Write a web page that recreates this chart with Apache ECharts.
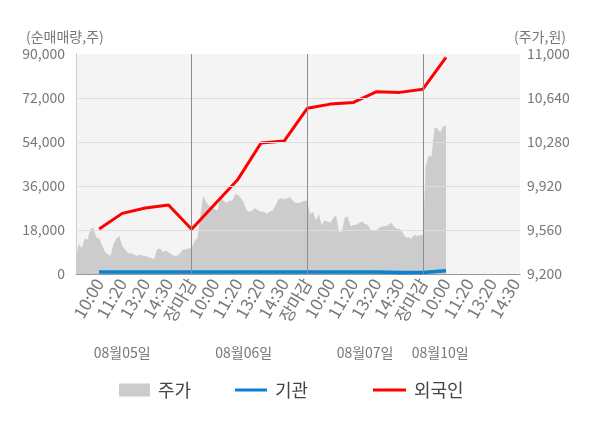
<!DOCTYPE html>
<html>
<head>
<meta charset="utf-8">
<title>순매매량 / 주가</title>
<script src="https://cdn.jsdelivr.net/npm/echarts@6/dist/echarts.min.js"></script>
<style>
html, body { margin: 0; padding: 0; background: #fff; }
#main { width: 600px; height: 428px; }
</style>
</head>
<body>
<div id="main"></div>
<script>
// x축 칸 이름 (하루 = 5칸, 0번 칸은 비워둠)
var slotLabels = ['', '10:00', '11:20', '13:20', '14:30', '장마감',
	'10:00', '11:20', '13:20', '14:30', '장마감',
	'10:00', '11:20', '13:20', '14:30', '장마감',
	'10:00', '11:20', '13:20', '14:30'];
var dayLabels = ['08월05일', '08월06일', '08월07일', '08월10일'];

// 주가 (원) : 칸 1/8 간격
var prices = [
	9340, 9450, 9410, 9490, 9480, 9570, 9580, 9500, 9490, 9440,
	9380, 9360, 9350, 9450, 9490, 9510, 9430, 9400, 9370, 9370,
	9360, 9350, 9360, 9350, 9350, 9340, 9330, 9320, 9400, 9410,
	9380, 9390, 9380, 9360, 9350, 9350, 9370, 9400, 9400, 9410,
	9410,
	9470, 9490, 9670, 9840, 9790, 9760, 9740, 9730, 9720, 9840,
	9800, 9780, 9800, 9800, 9850, 9850, 9820, 9790, 9720, 9710,
	9720, 9740, 9720, 9710, 9710, 9690, 9710, 9720, 9760, 9810,
	9820, 9810, 9820, 9830, 9800, 9780, 9780, 9790, 9800, 9800,
	9690, 9710, 9640, 9690, 9600, 9640, 9630, 9620, 9660, 9680,
	9540, 9550, 9660, 9670, 9590, 9600, 9600, 9620, 9630, 9610,
	9600, 9560, 9560, 9560, 9580, 9590, 9590, 9600, 9620, 9590,
	9570, 9570, 9540, 9500, 9500, 9490, 9520, 9510, 9520, 9520,
	10090, 10170, 10160, 10400, 10390, 10360, 10410, 10410
];
var priceStep = 0.125;

// 순매매량 (주) : 1번 칸부터
var foreign = [18400, 24800, 27000, 28200, 18300, 28500, 38700, 53600,
	54400, 67800, 69500, 70200, 74600, 74300, 75600, 88600];
var institution = [800, 800, 800, 800, 800, 800, 800, 800,
	800, 800, 800, 800, 800, 600, 600, 1300];

// 날짜 글자 위치 (칸 단위)
var daySlots = [2, 7.25, 12.5, 15.75];

var xMax = 19.2;
var leftAxis = { min: 0, max: 90000, interval: 18000 };
var rightAxis = { min: 9200, max: 11000, interval: 360 };

var priceData = prices.map(function (v, i) { return [i * priceStep, v]; });
var foreignData = foreign.map(function (v, i) { return [i + 1, v]; });
var instData = institution.map(function (v, i) { return [i + 1, v]; });

// 그리드 선은 주가 영역 위에 그려야 해서 markLine 으로
var gridLines = [];
for (var t = rightAxis.min + rightAxis.interval; t < rightAxis.max; t += rightAxis.interval) {
	gridLines.push({ yAxis: t, lineStyle: { color: '#dddddd', width: 1, type: 'solid' } });
}
[5, 10, 15].forEach(function (s) {
	gridLines.push({ xAxis: s, lineStyle: { color: '#8c8c8c', width: 1, type: 'solid' } });
});

function comma(v) {
	return String(v).replace(/\B(?=(\d{3})+(?!\d))/g, ',');
}

var myChart = echarts.init(document.getElementById('main'));

var option = {
	animation: false,
	textStyle: { fontFamily: 'Noto Sans CJK KR' },
	title: [
		{ text: '(순매매량,주)', left: 21, top: 25,
			textStyle: { fontSize: 14, fontWeight: 'normal', color: '#777' } },
		{ text: '(주가,원)', left: 509, top: 25,
			textStyle: { fontSize: 14, fontWeight: 'normal', color: '#777' } }
	],
	grid: {
		left: 76, right: 80, top: 54, bottom: 154,
		show: true, backgroundColor: '#f4f4f4', borderWidth: 0
	},
	legend: [
		{ data: ['주가'], left: 114, top: 376, icon: 'rect', itemWidth: 31, itemHeight: 13,
			textStyle: { fontSize: 18, color: '#444', padding: [0, 0, 0, 3] } },
		{ data: ['기관'], left: 230, top: 376, icon: 'rect', itemWidth: 32, itemHeight: 3,
			textStyle: { fontSize: 18, color: '#444', padding: [0, 0, 0, 3] } },
		{ data: ['외국인'], left: 368, top: 376, icon: 'rect', itemWidth: 33, itemHeight: 3,
			textStyle: { fontSize: 18, color: '#444', padding: [0, 0, 0, 3] } }
	],
	xAxis: [
		{
			type: 'value', min: 0, max: xMax, interval: 1,
			axisLine: { show: true, lineStyle: { color: '#999' } },
			axisTick: { show: false },
			splitLine: { show: false },
			axisLabel: {
				rotate: 60, margin: 6, fontSize: 17,
				formatter: function (v) {
					return Number.isInteger(v) ? slotLabels[v] : '';
				},
				color: function (v) {
					if (!Number.isInteger(v)) return '#777';
					if (slotLabels[v] === '장마감') return '#ff0000';
					if (v === 16) return '#222';
					return '#777';
				}
			}
		},
		{
			type: 'value', min: 0, max: xMax, interval: 0.25,
			position: 'bottom', offset: 64,
			axisLine: { show: false },
			axisTick: { show: false },
			splitLine: { show: false },
			axisLabel: {
				margin: 8, fontSize: 14, color: '#777',
				formatter: function (v) {
					var i = daySlots.indexOf(v);
					return i >= 0 ? dayLabels[i] : '';
				}
			}
		}
	],
	yAxis: [
		{
			type: 'value', min: leftAxis.min, max: leftAxis.max, interval: leftAxis.interval,
			position: 'left',
			axisLine: { show: true, lineStyle: { color: '#8c8c8c' } },
			axisTick: { show: false },
			splitLine: { show: false },
			axisLabel: { margin: 11, fontSize: 14, color: '#777', formatter: comma }
		},
		{
			type: 'value', min: rightAxis.min, max: rightAxis.max, interval: rightAxis.interval,
			position: 'right',
			axisLine: { show: true, lineStyle: { color: '#cccccc' } },
			axisTick: { show: false },
			splitLine: { show: false },
			axisLabel: { margin: 7, fontSize: 14, color: '#777', formatter: comma }
		}
	],
	series: [
		{
			name: '주가', type: 'line', xAxisIndex: 0, yAxisIndex: 1,
			data: priceData, symbol: 'none',
			itemStyle: { color: '#cccccc' },
			lineStyle: { width: 0, color: '#cccccc' },
			areaStyle: { color: '#cccccc', opacity: 1, origin: 'start' },
			markLine: { silent: true, symbol: 'none', label: { show: false }, data: gridLines }
		},
		{
			name: '기관', type: 'line', xAxisIndex: 0, yAxisIndex: 0,
			data: instData, symbol: 'none',
			itemStyle: { color: '#0a80d2' },
			lineStyle: { width: 3.5, color: '#0a80d2' }
		},
		{
			name: '외국인', type: 'line', xAxisIndex: 0, yAxisIndex: 0,
			data: foreignData, symbol: 'none',
			itemStyle: { color: '#ff0000' },
			lineStyle: { width: 3, color: '#ff0000' }
		}
	]
};

myChart.setOption(option);
</script>
</body>
</html>
